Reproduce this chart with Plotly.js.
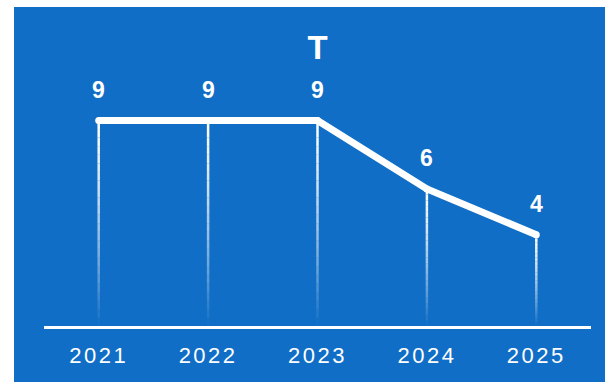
<!DOCTYPE html>
<html>
<head>
<meta charset="utf-8">
<script src="https://cdn.plot.ly/plotly-3.0.1.min.js"></script>
<style>
  html, body { margin: 0; padding: 0; background: #ffffff; width: 605px; height: 382px; overflow: hidden; }
  #chart { position: absolute; left: 14px; top: 7px; width: 591px; height: 375px; }
  .xtick text { letter-spacing: 2.5px; }
</style>
</head>
<body>
<div id="chart"></div>
<script>
const years = ['2021', '2022', '2023', '2024', '2025'];
const values = [9, 9, 9, 6, 4];
const chartTitle = 'T';

const BG = '#106ec6';
const FONT = 'Liberation Sans, Arial, sans-serif';

// fading drop lines (gradient approximated by segments); category index positions
const shapes = [];
const N = 24;
years.forEach((yr, i) => {
  const v = values[i];
  for (let k = 0; k < N; k++) {
    const a = v * (1 - k / N);
    const b = v * (1 - (k + 1) / N);
    const t = (k + 0.5) / N;
    const op = Math.max(0, 1 - Math.pow(t, 1.4));
    shapes.push({
      type: 'line', layer: 'below', xref: 'x', yref: 'y',
      x0: i, x1: i, y0: a, y1: b,
      line: { color: 'rgba(255,255,255,' + op.toFixed(3) + ')', width: 2.5 }
    });
  }
});

const annotations = years.map((yr, i) => ({
  x: i, y: values[i], xref: 'x', yref: 'y',
  text: '<b>' + values[i] + '</b>', showarrow: false,
  yanchor: 'middle', yshift: 31,
  font: { family: FONT, size: 23, color: '#ffffff' }
}));

const trace = {
  type: 'scatter', mode: 'lines+markers',
  x: years, y: values,
  line: { color: '#ffffff', width: 7 },
  marker: { color: '#ffffff', size: 7 },
  hoverinfo: 'skip'
};

const layout = {
  width: 591, height: 375,
  paper_bgcolor: BG, plot_bgcolor: BG,
  margin: { l: 30, r: 14, t: 45, b: 56 },
  showlegend: false,
  title: {
    text: '<b>' + chartTitle + '</b>',
    font: { family: FONT, size: 33, color: '#ffffff' },
    x: 0.5, xref: 'paper', xanchor: 'center',
    y: 1 - 40 / 375, yref: 'container', yanchor: 'middle'
  },
  xaxis: {
    type: 'category', range: [-0.5, 4.5],
    showgrid: false, zeroline: false,
    showline: true, linecolor: '#ffffff', linewidth: 3,
    ticks: '', ticklabelstandoff: 8,
    tickfont: { family: FONT, size: 22, color: '#ffffff' }
  },
  yaxis: {
    range: [0, 12], visible: false, showgrid: false, zeroline: false
  },
  shapes: shapes,
  annotations: annotations
};

Plotly.newPlot('chart', [trace], layout, { displayModeBar: false, staticPlot: true });
</script>
</body>
</html>
